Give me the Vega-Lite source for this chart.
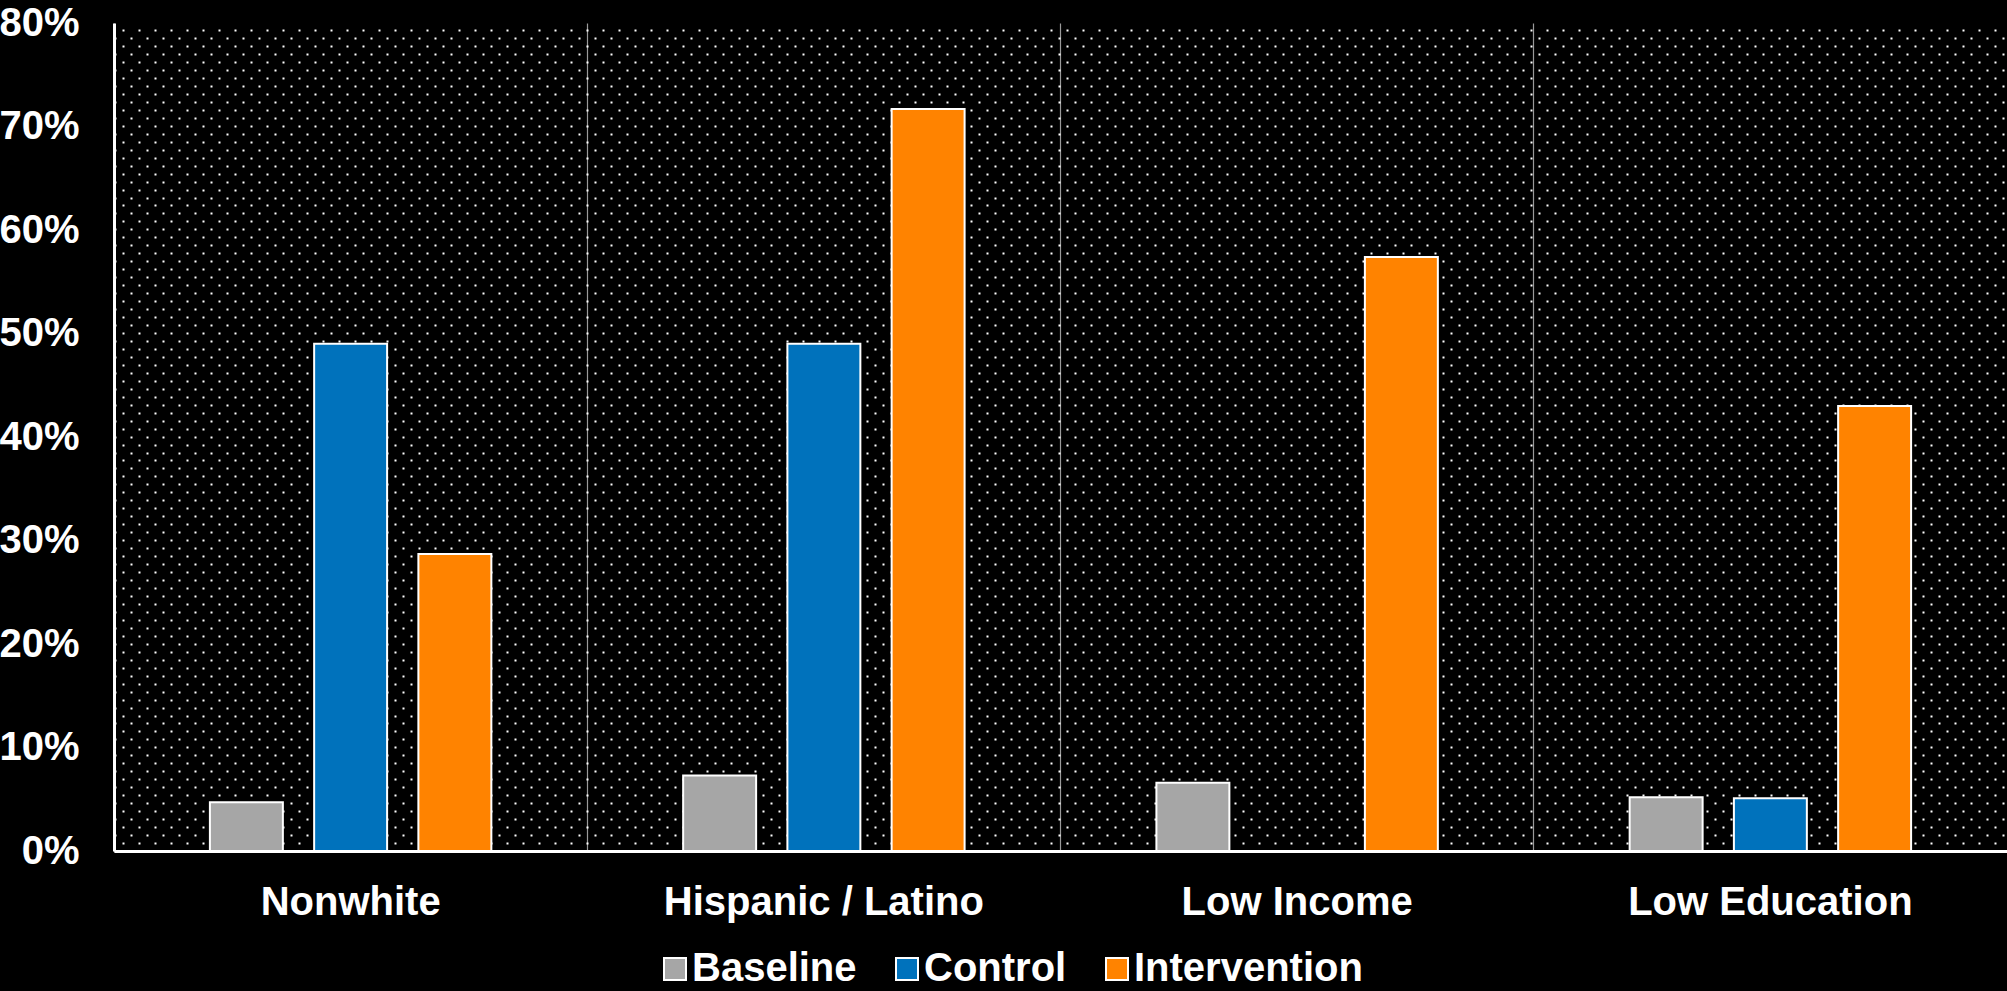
{
  "$schema": "https://vega.github.io/schema/vega-lite/v6.json",
  "autosize": {"type": "none"},
  "padding": {"left": 114, "top": 23, "right": 0, "bottom": 140},
  "width": 1893,
  "height": 828,
  "background": "#000000",
  "config": {
    "view": {"stroke": null, "fill": null},
    "font": "Liberation Sans"
  },
  "data": {
    "values": [
      {"group": "Nonwhite", "arm": "Baseline", "share": 0.047},
      {"group": "Nonwhite", "arm": "Control", "share": 0.49},
      {"group": "Nonwhite", "arm": "Intervention", "share": 0.287},
      {"group": "Hispanic / Latino", "arm": "Baseline", "share": 0.073},
      {"group": "Hispanic / Latino", "arm": "Control", "share": 0.49},
      {"group": "Hispanic / Latino", "arm": "Intervention", "share": 0.717},
      {"group": "Low Income", "arm": "Baseline", "share": 0.066},
      {"group": "Low Income", "arm": "Intervention", "share": 0.574},
      {"group": "Low Education", "arm": "Baseline", "share": 0.052},
      {"group": "Low Education", "arm": "Control", "share": 0.051},
      {"group": "Low Education", "arm": "Intervention", "share": 0.43}
    ]
  },
  "encoding": {
    "x": {
      "field": "group",
      "type": "nominal",
      "sort": ["Nonwhite", "Hispanic / Latino", "Low Income", "Low Education"],
      "scale": {"paddingInner": 0, "paddingOuter": 0},
      "axis": {
        "title": null,
        "labelAngle": 0,
        "labelFontSize": 40,
        "labelFontWeight": "bold",
        "labelColor": "#ffffff",
        "labelPadding": 31,
        "labelLimit": 600,
        "ticks": false,
        "domain": true,
        "domainColor": "#ffffff",
        "domainWidth": 3,
        "grid": true,
        "bandPosition": 0,
        "gridColor": "#9a9a9a",
        "gridWidth": 1.2
      }
    },
    "xOffset": {
      "field": "arm",
      "type": "nominal",
      "sort": ["Baseline", "Control", "Intervention"],
      "scale": {"domain": ["Baseline", "Control", "Intervention"], "paddingInner": 0.3, "paddingOuter": 0.92}
    }
  },
  "layer": [
    {
      "mark": {"type": "bar", "opacity": 0},
      "encoding": {
        "y": {
          "field": "share",
          "type": "quantitative",
          "scale": {"domain": [0, 0.8], "nice": false, "zero": true},
          "axis": {
            "orient": "left",
            "title": null,
            "labels": false,
            "ticks": false,
            "domain": false,
            "grid": true,
            "values": [0, 0.0077, 0.0154, 0.0231, 0.0308, 0.0385, 0.0462, 0.0539, 0.0616, 0.0693,
              0.077, 0.0847, 0.0924, 0.1001, 0.1078, 0.1155, 0.1232, 0.1309, 0.1386, 0.1463,
              0.154, 0.1617, 0.1694, 0.1771, 0.1848, 0.1925, 0.2002, 0.2079, 0.2156, 0.2233,
              0.231, 0.2387, 0.2464, 0.2541, 0.2618, 0.2695, 0.2772, 0.2849, 0.2926, 0.3003,
              0.308, 0.3157, 0.3234, 0.3311, 0.3388, 0.3465, 0.3542, 0.3619, 0.3696, 0.3773,
              0.385, 0.3927, 0.4004, 0.4081, 0.4158, 0.4235, 0.4312, 0.4389, 0.4466, 0.4543,
              0.462, 0.4697, 0.4774, 0.4851, 0.4928, 0.5005, 0.5082, 0.5159, 0.5236, 0.5313,
              0.539, 0.5467, 0.5544, 0.5621, 0.5698, 0.5775, 0.5852, 0.5929, 0.6006, 0.6083,
              0.616, 0.6237, 0.6314, 0.6391, 0.6468, 0.6545, 0.6622, 0.6699, 0.6776, 0.6853,
              0.693, 0.7007, 0.7084, 0.7161, 0.7238, 0.7315, 0.7392, 0.7469, 0.7546, 0.7623,
              0.77, 0.7777, 0.7854, 0.7931],
            "gridColor": "#ffffff",
            "gridWidth": 2,
            "gridDash": [2, 14],
            "gridDashOffset": {"condition": {"test": "round(datum.value / 0.0077) % 2 == 0", "value": 0}, "value": 8}
          }
        }
      }
    },
    {
      "mark": {"type": "bar", "stroke": "#ffffff", "strokeWidth": 2},
      "encoding": {
        "y": {
          "field": "share",
          "type": "quantitative",
          "scale": {"domain": [0, 0.8], "nice": false, "zero": true},
          "axis": {
            "orient": "left",
            "title": null,
            "values": [0, 0.1, 0.2, 0.3, 0.4, 0.5, 0.6, 0.7, 0.8],
            "format": ".0%",
            "labelFontSize": 40,
            "labelFontWeight": "bold",
            "labelColor": "#ffffff",
            "labelPadding": 35,
            "ticks": false,
            "grid": false,
            "domain": true,
            "domainColor": "#ffffff",
            "domainWidth": 3
          }
        },
        "color": {
          "field": "arm",
          "type": "nominal",
          "scale": {"domain": ["Baseline", "Control", "Intervention"], "range": ["#a6a6a6", "#0072bc", "#ff8300"]},
          "legend": {
            "title": null,
            "orient": "none",
            "direction": "horizontal",
            "legendX": 541,
            "legendY": 926,
            "symbolType": "square",
            "symbolSize": 484,
            "symbolStrokeColor": "#ffffff",
            "symbolStrokeWidth": 2,
            "symbolOpacity": 1,
            "labelFontSize": 40,
            "labelFontWeight": "bold",
            "labelColor": "#ffffff",
            "labelOffset": -3,
            "labelLimit": 600,
            "columnPadding": 30
          }
        }
      }
    }
  ],
  "resolve": {"axis": {"y": "independent"}}
}
